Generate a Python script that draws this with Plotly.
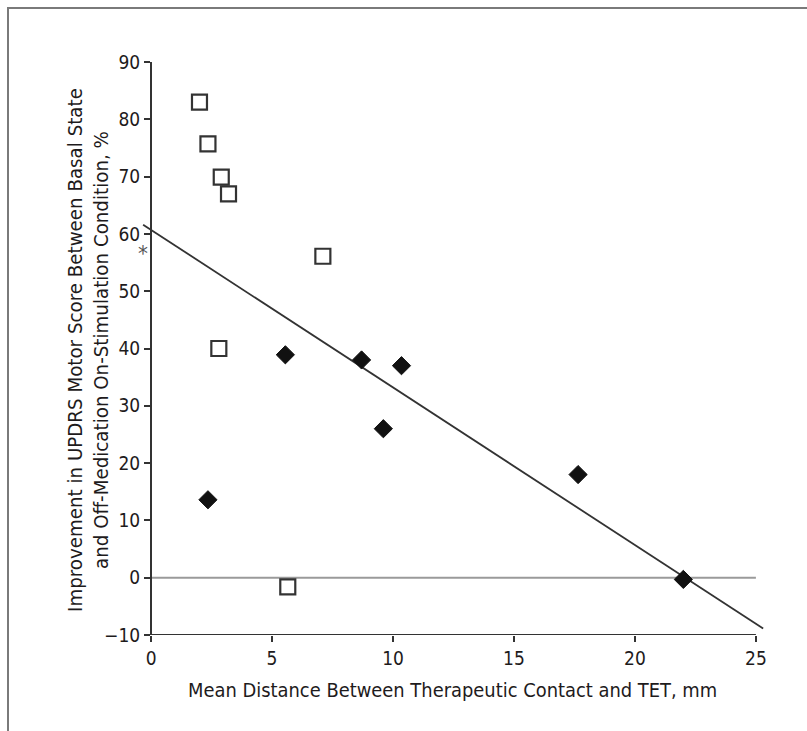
import plotly.graph_objects as go

# Data
square_x = [2.0, 2.35, 2.9, 3.2, 7.1, 2.8, 5.65]
square_y = [83.0, 75.7, 69.9, 67.0, 56.1, 40.0, -1.6]
diamond_x = [5.55, 8.7, 10.35, 9.6, 2.35, 17.65, 22.0]
diamond_y = [38.9, 38.0, 37.0, 26.0, 13.6, 18.0, -0.3]
fit_intercept = 60.7
fit_slope = -2.75
fit_x = [-0.33, 25.3]
fit_y = [fit_intercept + fit_slope * v for v in fit_x]
zero_x = [0, 25]
zero_y = [0, 0]
x_ticks = [0, 5, 10, 15, 20, 25]
y_ticks = [-10, 0, 10, 20, 30, 40, 50, 60, 70, 80, 90]

FONT = "Liberation Sans Narrow, Arial Narrow, DejaVu Sans Condensed, sans-serif"
TXT = "#1e1b1c"
W, H = 807, 731
L, R, T, B = 139, 39, 62, 96
PW = W - L - R
PH = H - T - B

fig = go.Figure()
fig.add_trace(go.Scatter(x=zero_x, y=zero_y, mode="lines",
                         line=dict(color="#9a9a9a", width=2), hoverinfo="skip"))
fig.add_trace(go.Scatter(x=fit_x, y=fit_y, mode="lines",
                         line=dict(color="#333333", width=1.8)))
fig.add_trace(go.Scatter(x=square_x, y=square_y, mode="markers",
                         marker=dict(symbol="square-open", size=15,
                                     color="#333333", line=dict(width=2.2, color="#333333"))))
fig.add_trace(go.Scatter(x=diamond_x, y=diamond_y, mode="markers",
                         marker=dict(symbol="diamond", size=14, color="#111111",
                                     line=dict(width=1, color="#111111"))))

fig.add_annotation(x=-0.33, y=56.5, xref="x", yref="y", text="*", showarrow=False,
                   font=dict(family=FONT, size=22, color="#555555"))

fig.add_annotation(xref="paper", yref="paper", x=(88 - L) / PW, y=(T + PH - 350) / PH,
                   text="Improvement in UPDRS Motor Score Between Basal State<br>"
                        "and Off-Medication On-Stimulation Condition, %",
                   textangle=-90, showarrow=False, xanchor="center", yanchor="middle",
                   font=dict(family=FONT, size=20.3, color=TXT))
fig.add_annotation(xref="paper", yref="paper", x=(452 - L) / PW, y=(T + PH - 690) / PH,
                   text="Mean Distance Between Therapeutic Contact and TET, mm",
                   showarrow=False, xanchor="center", yanchor="middle",
                   font=dict(family=FONT, size=19.9, color=TXT))

# x axis line from 0 to 25
fig.add_shape(type="line", xref="x", yref="y", x0=x_ticks[0], x1=x_ticks[-1], y0=-10, y1=-10,
              line=dict(color="#333333", width=2))
# outer frame (top and left)
fig.add_shape(type="line", xref="paper", yref="paper",
              x0=(7 - L) / PW, x1=(W + 5 - L) / PW, y0=(T + PH - 8) / PH, y1=(T + PH - 8) / PH,
              line=dict(color="#7a7a7a", width=2))
fig.add_shape(type="line", xref="paper", yref="paper",
              x0=(8 - L) / PW, x1=(8 - L) / PW, y0=(T + PH - 7) / PH, y1=(T + PH - H - 5) / PH,
              line=dict(color="#7a7a7a", width=2))

fig.update_layout(
    width=W, height=H, margin=dict(l=L, r=R, t=T, b=B),
    paper_bgcolor="white", plot_bgcolor="white", showlegend=False,
    font=dict(family=FONT, color=TXT),
    xaxis=dict(range=[-0.5, 25.5], tickvals=x_ticks, ticks="outside", ticklen=6,
               tickwidth=1.5, tickcolor="#333333", showline=False, showgrid=False,
               zeroline=False, tickfont=dict(family=FONT, size=19, color=TXT)),
    yaxis=dict(range=[-10, 90], tickvals=y_ticks, ticks="outside", ticklen=6,
               tickwidth=1.5, tickcolor="#333333", showline=True, linecolor="#333333",
               linewidth=2, showgrid=False, zeroline=False, anchor="free",
               position=(151 - L) / PW, tickfont=dict(family=FONT, size=19, color=TXT)),
)

fig.write_html("out.html")
